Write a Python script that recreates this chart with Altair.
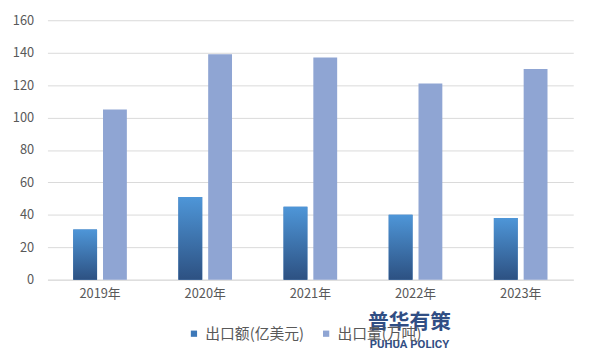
import altair as alt
import pandas as pd

years = ["2019年", "2020年", "2021年", "2022年", "2023年"]
series_names = ["出口额(亿美元)", "出口量(万吨)"]
export_value = [31, 51, 45, 40, 38]
export_volume = [105, 139, 137, 121, 130]

rows = []
for y, a, b in zip(years, export_value, export_volume):
    rows.append({"year": y, "series": series_names[0], "value": a})
    rows.append({"year": y, "series": series_names[1], "value": b})
df = pd.DataFrame(rows)

FONT = "Noto Sans CJK SC"
TXT = "#595959"

base = alt.Chart(df).encode(
    x=alt.X(
        "year:N",
        sort=years,
        scale=alt.Scale(paddingInner=0.49, paddingOuter=0.245),
        axis=alt.Axis(
            title=None, labelAngle=0, ticks=False, domainColor="#d9d9d9",
            labelPadding=8, labelFontSize=13, labelColor=TXT, labelFont=FONT, grid=False,
        ),
    ),
    xOffset=alt.XOffset("series:N", sort=series_names,
                        scale=alt.Scale(domain=series_names, paddingInner=0.2, paddingOuter=0)),
    y=alt.Y(
        "value:Q",
        scale=alt.Scale(domain=[0, 160]),
        axis=alt.Axis(
            title=None, values=list(range(0, 161, 20)), domain=False, ticks=False,
            gridColor="#d9d9d9", labelPadding=14, labelFontSize=13, labelColor=TXT, labelFont=FONT,
        ),
    ),
)

bars = base.mark_bar().encode(
    color=alt.Color(
        "series:N",
        sort=series_names,
        scale=alt.Scale(domain=series_names, range=["#3d78b8", "#8fa5d3"]),
        legend=alt.Legend(
            title=None, orient="none", legendX=141, legendY=310, direction="horizontal",
            symbolType="square", symbolSize=40, symbolStrokeWidth=0,
            labelFontSize=15, labelColor=TXT, labelFont=FONT, columnPadding=14,
        ),
    )
)

grad = base.transform_filter(alt.datum.series == series_names[0]).mark_bar(
    color=alt.Gradient(
        gradient="linear",
        stops=[alt.GradientStop(color="#2d5182", offset=0),
               alt.GradientStop(color="#4e96d8", offset=1)],
        x1=1, x2=1, y1=1, y2=0,
    )
)

wm1 = alt.Chart(pd.DataFrame({"t": ["普华有策"]})).mark_text(
    font=FONT, fontSize=21, fontWeight="bold", color="#1f3f7a", opacity=0.92
).encode(text="t:N", x=alt.value(367), y=alt.value(307))

wm2 = alt.Chart(pd.DataFrame({"t": ["PUHUA POLICY"]})).mark_text(
    font="Roboto", fontSize=11.5, fontWeight="bold", color="#1f3f7a", opacity=0.92
).encode(text="t:N", x=alt.value(367), y=alt.value(329))

chart = alt.layer(bars, grad, wm1, wm2).properties(
    width=533, height=263,
    padding={"left": 40, "top": 10, "right": 19, "bottom": 79},
    autosize=alt.AutoSizeParams(type="none"),
    background="white",
).configure_view(stroke=None)

chart.save("out.html", embed_options={"renderer": "svg", "actions": False})
